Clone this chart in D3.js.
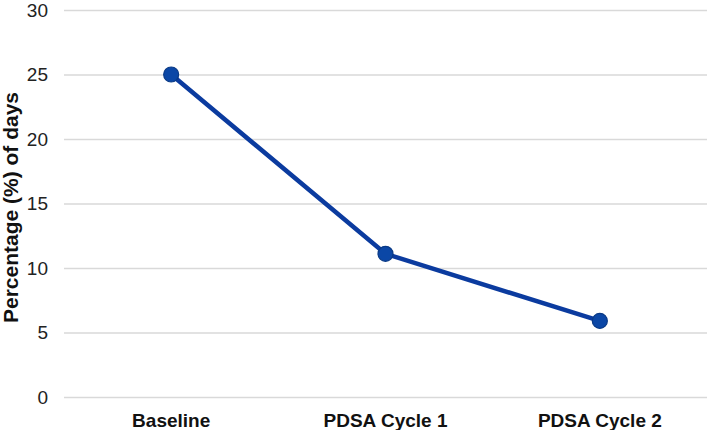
<!DOCTYPE html>
<html>
<head>
<meta charset="utf-8">
<script src="https://cdn.jsdelivr.net/npm/d3@7"></script>
<style>
  body { margin: 0; background: #fff; }
  svg { display: block; font-family: "Liberation Sans", Arial, Helvetica, sans-serif; }
</style>
</head>
<body>
<svg id="chart"></svg>
<script>
const categories = ["Baseline", "PDSA Cycle 1", "PDSA Cycle 2"];
const values = [25, 11.1, 5.9];
const yTicks = [0, 5, 10, 15, 20, 25, 30];

const W = 709, H = 430;
const margin = { top: 10, right: 2, bottom: 33, left: 64 };
const width = W - margin.left - margin.right,
      height = H - margin.top - margin.bottom;

const svg = d3.select("#chart")
    .attr("width", W)
    .attr("height", H);

const g = svg.append("g")
    .attr("transform", `translate(${margin.left},${margin.top})`);

const x = d3.scaleBand()
    .domain(categories)
    .range([0, width]);

const y = d3.scaleLinear()
    .domain([0, 30])
    .range([height, 0]);

// gridlines + y labels
const yAxis = g.append("g")
    .call(d3.axisLeft(y).tickValues(yTicks).tickSize(-width).tickPadding(16));
yAxis.select(".domain").remove();
yAxis.selectAll(".tick line").attr("stroke", "#d9d9d9").attr("stroke-width", 1.3);
yAxis.selectAll(".tick text")
    .attr("font-size", 19)
    .attr("fill", "#222");

// x labels
const xAxis = g.append("g")
    .attr("transform", `translate(0,${height})`)
    .call(d3.axisBottom(x).tickSize(0).tickPadding(17));
xAxis.select(".domain").remove();
xAxis.selectAll(".tick text")
    .attr("font-size", 19)
    .attr("font-weight", "bold")
    .attr("fill", "#111");

// y title
svg.append("text")
    .attr("transform", `translate(18,${margin.top + height / 2 + 4}) rotate(-90)`)
    .attr("text-anchor", "middle")
    .attr("font-size", 21)
    .attr("font-weight", "bold")
    .attr("fill", "#111")
    .text("Percentage (%) of days");

const data = categories.map((c, i) => ({ cat: c, val: values[i] }));

const line = d3.line()
    .x(d => x(d.cat) + x.bandwidth() / 2)
    .y(d => y(d.val));

g.append("path")
    .datum(data)
    .attr("fill", "none")
    .attr("stroke", "#0b3b9f")
    .attr("stroke-width", 4.5)
    .attr("d", line);

g.selectAll(".dot")
    .data(data)
    .enter()
    .append("circle")
    .attr("cx", d => x(d.cat) + x.bandwidth() / 2)
    .attr("cy", d => y(d.val))
    .attr("r", 7.5)
    .attr("fill", "#0b47a6")
    .attr("stroke", "#0a3a86")
    .attr("stroke-width", 1.2);
</script>
</body>
</html>
